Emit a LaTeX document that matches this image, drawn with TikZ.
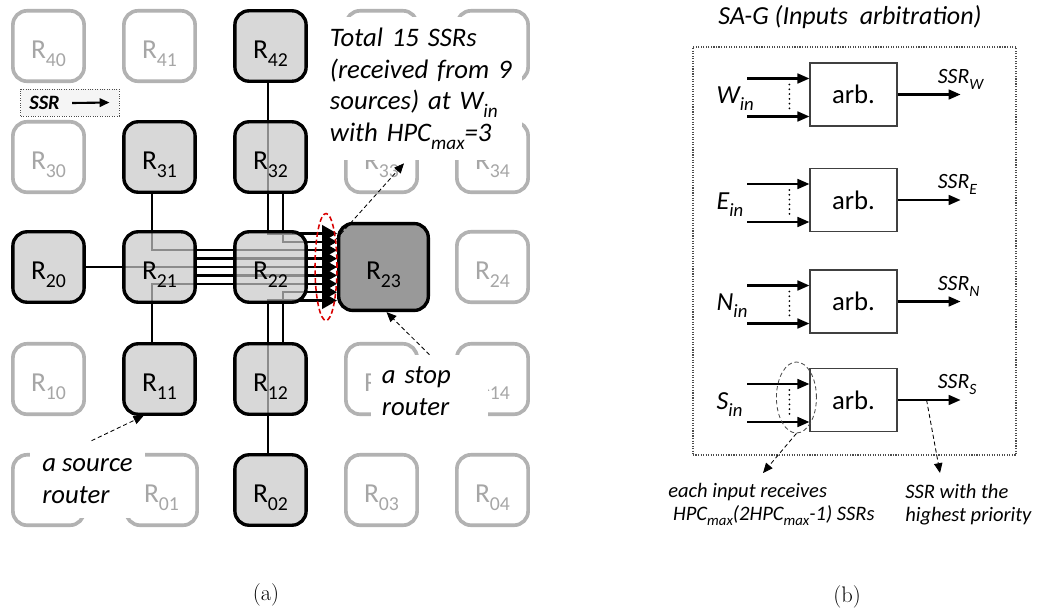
\documentclass[tikz,border=0pt]{standalone}
\usepackage{fontspec}
\usepackage{graphicx}
\newfontfamily\cfont{Carlito}
\usetikzlibrary{arrows.meta,calc,shapes.geometric,backgrounds}
\newcommand{\rsub}[1]{\raisebox{-0.28em}{\scalebox{0.72}{#1}}}

\begin{document}
\begin{tikzpicture}[
    x=0.025cm, y=-0.025cm,
    router/.style={rectangle, rounded corners=10pt, draw=black, line width=2.4pt, fill=black!22, fill opacity=0.7, text opacity=1, minimum width=1.78cm, minimum height=1.76cm, inner sep=0pt, text height=18pt, text depth=0pt, font=\cfont\fontsize{19.5}{22}\selectfont},
    idle/.style={router, draw=black!30, line width=2.6pt, fill=white, fill opacity=1, text=black!35},
    stop/.style={router, fill=black!40, fill opacity=1, minimum width=2.24cm, minimum height=2.17cm},
    note/.style={fill=white, inner sep=0pt, align=left, font=\cfont\itshape\fontsize{19}{22.7}\selectfont},
    link/.style={line width=1.7pt},
    feed/.style={link, -{Triangle[length=10.5pt, width=11.5pt]}},
    pointer/.style={-{Triangle[length=7pt, width=6pt]}, line width=0.6pt, dash pattern=on 3pt off 2pt},
    arb/.style={rectangle, draw=black!75, line width=0.8pt, minimum width=2.175cm, minimum height=1.575cm, font=\cfont\fontsize{19}{22}\selectfont},
    wire/.style={line width=1.5pt, -{Triangle[length=8.5pt, width=7pt]}},
    dots/.style={line width=1.4pt, line cap=round, dash pattern=on 0pt off 3.4pt},
    port/.style={anchor=base west, inner sep=0pt, font=\cfont\itshape\fontsize{18.5}{20}\selectfont},
    grant/.style={anchor=base west, inner sep=0pt, font=\cfont\itshape\fontsize{15.5}{17}\selectfont},
    remark/.style={anchor=west, inner sep=0pt, align=left, font=\cfont\itshape\fontsize{14.6}{16.3}\selectfont}
]
    \useasboundingbox (0,0) rectangle (1038,613);

    % Mesh (a)
    \node[idle] (r40) at (48.5,46) {R\rsub{40}};
    \node[idle] (r41) at (159.5,46) {R\rsub{41}};
    \node[router] (r42) at (270.5,46) {R\rsub{42}};
    \node[idle] (r43) at (381.5,46) {};
    \node[idle] (r44) at (492.5,46) {};
    \node[idle] (r30) at (48.5,157) {R\rsub{30}};
    \node[router] (r31) at (159.5,157) {R\rsub{31}};
    \node[router] (r32) at (270.5,157) {R\rsub{32}};
    \node[idle] (r33) at (381.5,157) {R\rsub{33}};
    \node[idle] (r34) at (492.5,157) {R\rsub{34}};
    \node[router] (r20) at (48.5,267) {R\rsub{20}};
    \node[router] (r21) at (159.5,267) {R\rsub{21}};
    \node[router] (r22) at (270.5,267) {R\rsub{22}};
    \node[stop] (r23) at (383.5,267) {R\rsub{23}};
    \node[idle] (r24) at (492.5,267) {R\rsub{24}};
    \node[idle] (r10) at (48.5,379) {R\rsub{10}};
    \node[router] (r11) at (159.5,379) {R\rsub{11}};
    \node[router] (r12) at (270.5,379) {R\rsub{12}};
    \node[idle] (r13) at (381.5,379) {R\rsub{13}};
    \node[idle] (r14) at (492.5,379) {R\rsub{14}};
    \node[idle] (r00) at (48.5,490) {};
    \node[idle] (r01) at (161.5,490) {R\rsub{01}};
    \node[router] (r02) at (270.5,490) {R\rsub{02}};
    \node[idle] (r03) at (381.5,490) {R\rsub{03}};
    \node[idle] (r04) at (492.5,490) {R\rsub{04}};

    % W_in of R23
    \foreach \k in {1,...,9}
        \coordinate (w\k) at ($(r23.west)+(0,{8.4*(\k-5)})$);

    % SSR paths
    \begin{scope}[on background layer]
        \draw[feed] ($(r42.south)+(-2.5,0)$) |- (w1);
        \draw[feed] ($(r32.south)+(12.5,0)$) |- (w2);
        \draw[feed] ($(r31.south)+(-7.5,0)$) |- (w3);
        \draw[feed] (r21.east |- w4) -- (w4);
        \draw[feed] (r20.east) -- (w5);
        \draw[feed] (r21.east |- w6) -- (w6);
        \draw[feed] ($(r11.north)+(-7.5,0)$) |- (w7);
        \draw[feed] ($(r12.north)+(12.5,0)$) |- (w8);
        \draw[feed] ($(r02.north)+(-2.5,0)$) |- (w9);
    \end{scope}
    \node[ellipse, draw=red!85!black, line width=1.1pt, dash pattern=on 3.5pt off 2pt, minimum width=0.55cm, minimum height=2.675cm, inner sep=0pt] (ring) at (326,267) {};

    % Legend
    \node[draw=black!70, densely dotted, line width=0.7pt, fill=black!4, minimum width=2.45cm, minimum height=0.675cm] (key) at (70,102.5) {};
    \node[anchor=west, inner sep=0pt, font=\cfont\bfseries\itshape\fontsize{14.5}{17}\selectfont] (keylabel) at (29,103) {SSR};
    \draw[line width=1.5pt, -{Triangle[length=7pt, width=6pt]}] ($(keylabel.east)+(12,0)$) -- ($(key.east)+(-10,0)$);

    % Notes
    \node[note, minimum width=4.95cm, minimum height=3.575cm, text width=4.65cm] (total) at (423,88.5) {Total 15 SSRs\\(received from 9\\sources) at W\rsub{in}\\with HPC\rsub{max}=3};
    \node[note, minimum width=2.925cm, minimum height=1.8cm, text width=2.375cm] (stopnote) at (429.5,391) {a stop\\router};
    \node[note, minimum width=2.875cm, minimum height=1.825cm] (srcnote) at (87.5,481.5) {a source\\router};
    \draw[pointer] (ring.70) -- ($(total.south)+(-19,3)$);
    \draw[pointer] (stopnote.north) -- ($(r23.south)+(3,0)$);
    \draw[pointer] ($(srcnote.north)+(4,-4)$) -- ($(r11.south)+(-16,0)$);

    % SA-G (b)
    \node[font=\cfont\itshape\fontsize{18.5}{22}\selectfont] (title) at (850,17) {SA-G (Inputs~ arbitration)};
    \node[draw=black!70, densely dotted, line width=0.8pt, minimum width=8.075cm, minimum height=10.2cm] (sag) at (854.5,251) {};
    \node[arb] (arbw) at (853.5,94.5) {arb.};
    \node[arb] (arbe) at (853.5,200) {arb.};
    \node[arb] (arbn) at (853.5,301.5) {arb.};
    \node[arb] (arbs) at (853.5,400) {arb.};

    \draw[wire] ($(arbw.west)+(-62,-16)$) -- ($(arbw.west)+(0,-16)$);
    \draw[wire] ($(arbw.west)+(-62,22)$) -- ($(arbw.west)+(0,22)$);
    \draw[dots] ($(arbw.west)+(-20,-10)$) -- ($(arbw.west)+(-20,14)$);
    \node[port] (win) at ($(arbw.west)+(-93,9)$) {W\rsub{in}};
    \draw[wire] (arbw.east) -- ++(63,0);
    \node[grant] (ssrw) at ($(arbw.east)+(40,-11.5)$) {SSR\rsub{W}};

    \draw[wire] ($(arbe.west)+(-62,-16)$) -- ($(arbe.west)+(0,-16)$);
    \draw[wire] ($(arbe.west)+(-62,22)$) -- ($(arbe.west)+(0,22)$);
    \draw[dots] ($(arbe.west)+(-20,-10)$) -- ($(arbe.west)+(-20,14)$);
    \node[port] (ein) at ($(arbe.west)+(-93,9)$) {E\rsub{in}};
    \draw[wire] (arbe.east) -- ++(63,0);
    \node[grant] (ssre) at ($(arbe.east)+(40,-11.5)$) {SSR\rsub{E}};

    \draw[wire] ($(arbn.west)+(-62,-16)$) -- ($(arbn.west)+(0,-16)$);
    \draw[wire] ($(arbn.west)+(-62,22)$) -- ($(arbn.west)+(0,22)$);
    \draw[dots] ($(arbn.west)+(-20,-10)$) -- ($(arbn.west)+(-20,14)$);
    \node[port] (nin) at ($(arbn.west)+(-93,9)$) {N\rsub{in}};
    \draw[wire] (arbn.east) -- ++(63,0);
    \node[grant] (ssrn) at ($(arbn.east)+(40,-11.5)$) {SSR\rsub{N}};

    \draw[wire] ($(arbs.west)+(-62,-16)$) -- ($(arbs.west)+(0,-16)$);
    \draw[wire] ($(arbs.west)+(-62,22)$) -- ($(arbs.west)+(0,22)$);
    \draw[dots] ($(arbs.west)+(-20,-10)$) -- ($(arbs.west)+(-20,14)$);
    \node[port] (sin) at ($(arbs.west)+(-93,9)$) {S\rsub{in}};
    \draw[wire] (arbs.east) -- ++(63,0);
    \node[grant] (ssrs) at ($(arbs.east)+(40,-11.5)$) {SSR\rsub{S}};

    % Remarks
    \node[ellipse, draw=black!70, line width=0.6pt, dash pattern=on 3pt off 2pt, minimum width=1cm, minimum height=1.775cm, inner sep=0pt] (sring) at ($(arbs.west)+(-13,-2.5)$) {};
    \coordinate (inputtip) at (763,473);
    \coordinate (priotip) at (940,473);
    \draw[pointer] (sring.south) -- (inputtip);
    \draw[pointer] ($(arbs.east)+(29,0)$) -- (priotip);
    \node[remark] (inputnote) at (668,504.5) {each input receives\\\hspace{0.12cm}HPC\rsub{max}(2HPC\rsub{max}-1) SSRs};
    \node[remark] (prionote) at (905,504.5) {SSR with the\\highest priority};

    % Captions
    \node[font=\rmfamily\fontsize{16}{19}\selectfont] (capa) at (266,595) {(a)};
    \node[font=\rmfamily\fontsize{16}{19}\selectfont] (capb) at (847,597) {(b)};
\end{tikzpicture}
\end{document}
